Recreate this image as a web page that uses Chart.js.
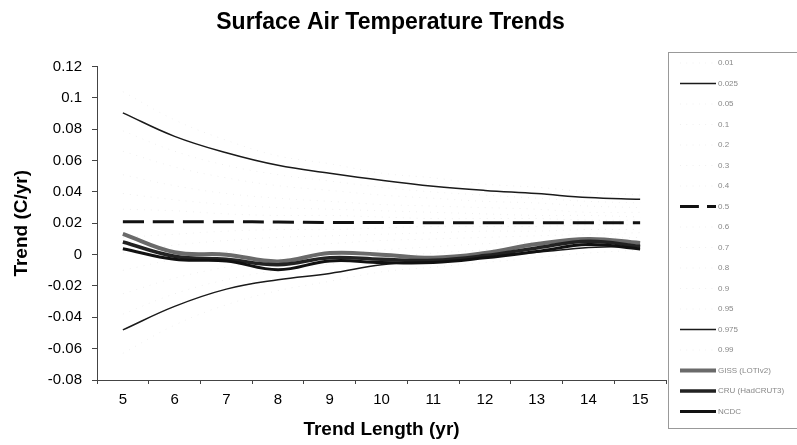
<!DOCTYPE html>
<html>
<head>
<meta charset="utf-8">
<script src="https://cdn.jsdelivr.net/npm/chart.js@4"></script>
<style>
  html, body { margin: 0; padding: 0; background: #fff; }
  #wrap { width: 797px; height: 445px; }
</style>
</head>
<body>
<div id="wrap"><canvas id="chart"></canvas></div>
<script>
// trend length (years)
const trendLengths = ["5", "6", "7", "8", "9", "10", "11", "12", "13", "14", "15"];

// percentile curves (C/yr)
const p01 = [-0.063, -0.045, -0.032, -0.023, -0.017, -0.011, -0.008, -0.005, -0.002, 0.001, 0.003];
const p025 = [-0.048, -0.033, -0.022, -0.016, -0.012, -0.0065, -0.0035, -0.0005, 0.0015, 0.0045, 0.0055];
const p05 = [-0.038, -0.025, -0.016, -0.010, -0.006, -0.002, 0.001, 0.003, 0.005, 0.007, 0.008];
const p10 = [-0.025, -0.015, -0.008, -0.003, 0.000, 0.003, 0.005, 0.007, 0.008, 0.010, 0.011];
const p20 = [-0.010, -0.003, 0.002, 0.005, 0.007, 0.009, 0.010, 0.011, 0.012, 0.013, 0.014];
const p30 = [0.001, 0.006, 0.009, 0.011, 0.012, 0.013, 0.014, 0.015, 0.015, 0.016, 0.016];
const p40 = [0.011, 0.013, 0.015, 0.016, 0.016, 0.017, 0.018, 0.018, 0.018, 0.019, 0.019];
const p50 = [0.021, 0.021, 0.021, 0.0208, 0.0205, 0.0205, 0.0204, 0.0204, 0.0203, 0.0203, 0.0203];
const p60 = [0.029, 0.028, 0.026, 0.025, 0.025, 0.024, 0.023, 0.023, 0.023, 0.022, 0.022];
const p70 = [0.039, 0.035, 0.032, 0.030, 0.029, 0.028, 0.027, 0.026, 0.025, 0.025, 0.024];
const p80 = [0.051, 0.044, 0.039, 0.036, 0.034, 0.032, 0.031, 0.030, 0.029, 0.027, 0.027];
const p90 = [0.066, 0.056, 0.049, 0.044, 0.041, 0.038, 0.036, 0.034, 0.033, 0.031, 0.030];
const p95 = [0.079, 0.066, 0.057, 0.051, 0.047, 0.043, 0.040, 0.038, 0.036, 0.034, 0.033];
const p975 = [0.0905, 0.0755, 0.065, 0.057, 0.052, 0.0475, 0.0437, 0.041, 0.039, 0.0364, 0.0353];
const p99 = [0.104, 0.086, 0.073, 0.063, 0.058, 0.052, 0.049, 0.045, 0.043, 0.040, 0.038];

// observed trends
const giss = [0.0132, 0.0015, 0.000, -0.0043, 0.001, 0.000, -0.002, 0.001, 0.0068, 0.010, 0.0075];
const cru = [0.0081, -0.001, -0.003, -0.0064, -0.002, -0.003, -0.0036, -0.0006, 0.0043, 0.0085, 0.0053];
const ncdc = [0.0038, -0.003, -0.004, -0.0096, -0.004, -0.005, -0.005, -0.002, 0.002, 0.0064, 0.0036];

const font = "'Liberation Sans', Arial, sans-serif";
const faint = { borderColor: "#efefef", borderWidth: 1, borderDash: [1, 6] };

function line(label, data, style) {
    return Object.assign({ label: label, data: data, pointRadius: 0, tension: 0.4, fill: false }, style);
}

const datasets = [
    line("NCDC", ncdc, { borderColor: "#111", borderWidth: 3 }),
    line("CRU (HadCRUT3)", cru, { borderColor: "#222", borderWidth: 3.5 }),
    line("GISS (LOTIv2)", giss, { borderColor: "#6a6a6a", borderWidth: 4 }),
    line("0.99", p99, faint),
    line("0.975", p975, { borderColor: "#1a1a1a", borderWidth: 1.5 }),
    line("0.95", p95, faint),
    line("0.9", p90, faint),
    line("0.8", p80, faint),
    line("0.7", p70, faint),
    line("0.6", p60, faint),
    line("0.5", p50, { borderColor: "#111", borderWidth: 3, borderDash: [21, 9] }),
    line("0.4", p40, faint),
    line("0.3", p30, faint),
    line("0.2", p20, faint),
    line("0.1", p10, faint),
    line("0.05", p05, faint),
    line("0.025", p025, { borderColor: "#1a1a1a", borderWidth: 1.5 }),
    line("0.01", p01, faint),
];

// legend drawn by hand, boxed on the right like the original
const boxLegend = {
    id: "boxLegend",
    afterDraw(chart) {
        const ctx = chart.ctx;
        ctx.save();
        ctx.strokeStyle = "#999";
        ctx.lineWidth = 1;
        ctx.strokeRect(668.5, 52.5, 140, 376);
        const items = chart.data.datasets.slice().reverse();
        items.forEach((ds, i) => {
            const y = 63 + i * 20.5;
            ctx.beginPath();
            ctx.strokeStyle = ds.borderColor;
            ctx.lineWidth = ds.borderWidth;
            ctx.setLineDash(ds.borderDash ? ds.borderDash.map((d) => d * 0.9) : []);
            ctx.moveTo(680, y);
            ctx.lineTo(716, y);
            ctx.stroke();
            ctx.setLineDash([]);
            ctx.fillStyle = "#888";
            ctx.font = "8px " + font;
            ctx.textBaseline = "middle";
            ctx.fillText(ds.label, 718, y);
        });
        ctx.restore();
    },
};

new Chart(document.getElementById("chart"), {
    type: "line",
    data: { labels: trendLengths, datasets: datasets },
    plugins: [boxLegend],
    options: {
        responsive: true,
        maintainAspectRatio: false,
        animation: false,
        layout: { padding: { left: 10, right: 26, top: 0, bottom: 4 } },
        plugins: {
            legend: { display: false },
            tooltip: { enabled: false },
            title: {
                display: true,
                text: "Surface Air Temperature Trends",
                color: "#000",
                font: { family: font, size: 23, weight: "bold" },
                padding: { top: 9, bottom: 30 },
            },
        },
        scales: {
            x: {
                offset: true,
                grid: { drawOnChartArea: false, offset: true, tickLength: 4, color: "#444" },
                border: { color: "#444", width: 1 },
                ticks: { color: "#000", font: { family: font, size: 15 }, padding: 7, maxRotation: 0 },
                title: {
                    display: true,
                    text: "Trend Length (yr)",
                    color: "#000",
                    font: { family: font, size: 19, weight: "bold" },
                    padding: { top: 2, bottom: 0 },
                },
                afterFit: (s) => { s.height = 61; },
            },
            y: {
                min: -0.08,
                max: 0.12,
                grid: { drawOnChartArea: false, tickLength: 5, color: "#444" },
                border: { color: "#444", width: 1 },
                ticks: {
                    stepSize: 0.02,
                    color: "#000",
                    font: { family: font, size: 15 },
                    padding: 10,
                    callback: (v) => String(parseFloat(v.toFixed(2))),
                },
                title: {
                    display: true,
                    text: "Trend (C/yr)",
                    color: "#000",
                    font: { family: font, size: 19, weight: "bold" },
                    padding: { top: 0, bottom: 4 },
                },
                afterFit: (s) => { s.width = 87; },
            },
            spare: {
                position: "right",
                display: true,
                grid: { display: false },
                border: { display: false },
                ticks: { display: false },
                afterFit: (s) => { s.width = 105; },
            },
        },
    },
});
</script>
</body>
</html>
